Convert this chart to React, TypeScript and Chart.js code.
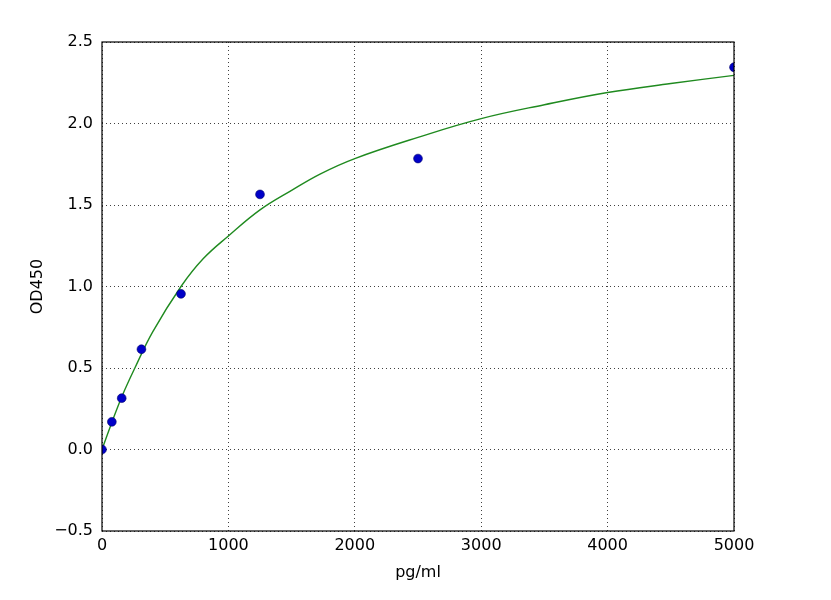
import { useEffect, useRef } from 'react';
import Chart from 'chart.js/auto';

// measured standards (concentration vs OD)
const concentrations = [0, 78, 156, 312, 625, 1250, 2500, 5000];
const odValues = [0.0, 0.17, 0.315, 0.615, 0.955, 1.565, 1.785, 2.345];

// fitted curve
const curveX = [0, 80, 160, 260, 400, 625, 800, 1000, 1250, 1500, 1725, 2000, 2500, 3000, 3500, 4000, 4500, 5000];
const curveY = [0.0, 0.17, 0.33, 0.5, 0.72, 1.0, 1.17, 1.31, 1.47, 1.59, 1.69, 1.785, 1.915, 2.03, 2.115, 2.19, 2.245, 2.295];

const xTicks = [0, 1000, 2000, 3000, 4000, 5000];

const FONT = 'DejaVu Sans';

const frame = {
  id: 'frame',
  afterDatasetsDraw(chart: any) {
    const { ctx, chartArea } = chart;
    ctx.save();
    ctx.strokeStyle = '#000';
    ctx.lineWidth = 1.2;
    ctx.strokeRect(chartArea.left, chartArea.top, chartArea.right - chartArea.left, chartArea.bottom - chartArea.top);
    ctx.restore();
  },
};

const App = () => {
  const canvasRef = useRef<HTMLCanvasElement>(null);

  useEffect(() => {
    if (!canvasRef.current) return;
    const chart = new Chart(canvasRef.current, {
      type: 'scatter',
      data: {
        datasets: [
          {
            label: 'standards',
            data: concentrations.map((x, i) => ({ x, y: odValues[i] })),
            backgroundColor: '#0000c8',
            borderColor: '#00006a',
            borderWidth: 0.6,
            pointRadius: 4.4,
            showLine: false,
            clip: 0,
          },
          {
            label: 'fit',
            data: curveX.map((x, i) => ({ x, y: curveY[i] })),
            showLine: true,
            borderColor: '#1f8a1f',
            borderWidth: 1.4,
            pointRadius: 0,
            tension: 0.4,
            clip: 0,
          },
        ],
      },
      options: {
        animation: false,
        responsive: true,
        maintainAspectRatio: false,
        layout: { padding: { top: 42, right: 97, left: 0, bottom: 0 } },
        plugins: { legend: { display: false }, tooltip: { enabled: false } },
        scales: {
          x: {
            type: 'linear',
            min: 0,
            max: 5000,
            afterFit: (s: any) => { s.height = 69; },
            afterBuildTicks: (s: any) => { s.ticks = xTicks.map((v) => ({ value: v })); },
            ticks: {
              color: '#000',
              font: { family: FONT, size: 16 },
              padding: 5,
              maxRotation: 0,
              callback: (v: any) => String(v),
            },
            grid: {
              color: 'rgba(0,0,0,0.75)',
              lineWidth: 1,
              drawTicks: false,
            },
            border: { display: false, dash: [1, 3] },
            title: {
              display: true,
              text: 'pg/ml',
              color: '#000',
              font: { family: FONT, size: 16 },
              padding: { top: 0, bottom: 18 },
            },
          },
          y: {
            type: 'linear',
            min: -0.5,
            max: 2.5,
            afterFit: (s: any) => { s.width = 102; },
            ticks: {
              stepSize: 0.5,
              color: '#000',
              font: { family: FONT, size: 16 },
              padding: 9,
              callback: (v: any) => Number(v).toFixed(1).replace('-', '\u2212'),
            },
            grid: {
              color: 'rgba(0,0,0,0.75)',
              lineWidth: 1,
              drawTicks: false,
            },
            border: { display: false, dash: [1, 3] },
            title: {
              display: true,
              text: 'OD450',
              color: '#000',
              font: { family: FONT, size: 16 },
              padding: { top: 28, bottom: 0 },
            },
          },
        },
      },
      plugins: [frame],
    });
    return () => chart.destroy();
  }, []);

  return (
    <div style={{ position: 'fixed', left: 0, top: 0, width: 831, height: 600, background: '#fff' }}>
      <canvas ref={canvasRef} />
    </div>
  );
};

export default App;
